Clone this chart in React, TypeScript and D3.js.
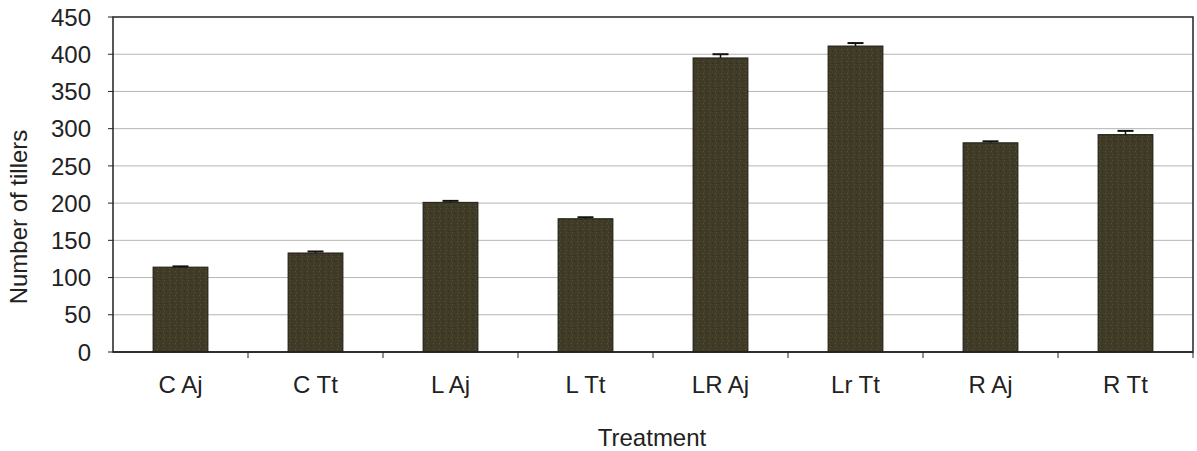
import React from "react";
import * as d3 from "d3";

const categories = ["C Aj", "C Tt", "L Aj", "L Tt", "LR Aj", "Lr Tt", "R Aj", "R Tt"];
const values = [114, 133, 201, 179, 395, 411, 281, 292];
const errors = [1, 2, 2, 2, 5, 4, 2, 5];
const yTicks = [0, 50, 100, 150, 200, 250, 300, 350, 400, 450];

const W = 1197;
const H = 451;
const M = { left: 113, right: 1193, top: 17, bottom: 352 };

export default function App() {
  const x = d3.scaleBand<string>().domain(categories).range([M.left, M.right]).paddingInner(0.594).paddingOuter(0.297);
  const y = d3.scaleLinear().domain([0, 450]).range([M.bottom, M.top]);
  const font = "Arial, 'Liberation Sans', sans-serif";
  const bw = x.bandwidth();
  const step = x.step();
  return (
    <svg width={W} height={H} style={{ position: "absolute", left: 0, top: 0 }}>
      <defs>
        <pattern id="tex" width="6" height="6" patternUnits="userSpaceOnUse">
          <rect width="6" height="6" fill="#3f3b27" />
          <rect x="1" y="1" width="1" height="1" fill="#5a5436" />
          <rect x="4" y="3" width="1" height="1" fill="#2c2a1c" />
          <rect x="2" y="4" width="1" height="1" fill="#565234" />
        </pattern>
      </defs>
      <rect width={W} height={H} fill="#fff" />
      {yTicks.filter((t) => t > 0 && t < 450).map((t) => (
        <line key={t} x1={M.left} x2={M.right} y1={y(t)} y2={y(t)} stroke="#b5b5b5" strokeWidth={1} />
      ))}
      <rect x={M.left} y={M.top} width={M.right - M.left} height={M.bottom - M.top} fill="none" stroke="#222" strokeWidth={1.5} />
      {yTicks.map((t) => (
        <g key={t}>
          <line x1={M.left - 5} x2={M.left} y1={y(t)} y2={y(t)} stroke="#222" />
          <text x={91} y={y(t)} dy="0.36em" textAnchor="end" fontFamily={font} fontSize={24} fill="#222">{t}</text>
        </g>
      ))}
      {categories.map((c, i) => (
        <line key={c} x1={M.left + step * (i + 1)} x2={M.left + step * (i + 1)} y1={M.bottom} y2={M.bottom + 6} stroke="#222" />
      ))}
      {categories.map((c, i) => {
        const x0 = x(c)!;
        const cx = x0 + bw / 2;
        return (
          <g key={c}>
            <rect x={x0} y={y(values[i])} width={bw} height={M.bottom - y(values[i])} fill="url(#tex)" stroke="#1e1c12" strokeWidth={1} />
            <line x1={cx} x2={cx} y1={y(values[i] + errors[i])} y2={y(values[i])} stroke="#111" strokeWidth={1.5} />
            <line x1={cx - 8} x2={cx + 8} y1={y(values[i] + errors[i])} y2={y(values[i] + errors[i])} stroke="#111" strokeWidth={2} />
            <text x={cx} y={384} dy="0.36em" textAnchor="middle" fontFamily={font} fontSize={24} fill="#222">{c}</text>
          </g>
        );
      })}
      <line x1={M.left} x2={M.right} y1={M.bottom} y2={M.bottom} stroke="#222" strokeWidth={1.5} />
      <text x={652} y={437} dy="0.36em" textAnchor="middle" fontFamily={font} fontSize={24} fill="#222">Treatment</text>
      <text transform={`translate(18, 217) rotate(-90)`} dy="0.36em" textAnchor="middle" fontFamily={font} fontSize={24} fill="#222">Number of tillers</text>
    </svg>
  );
}
